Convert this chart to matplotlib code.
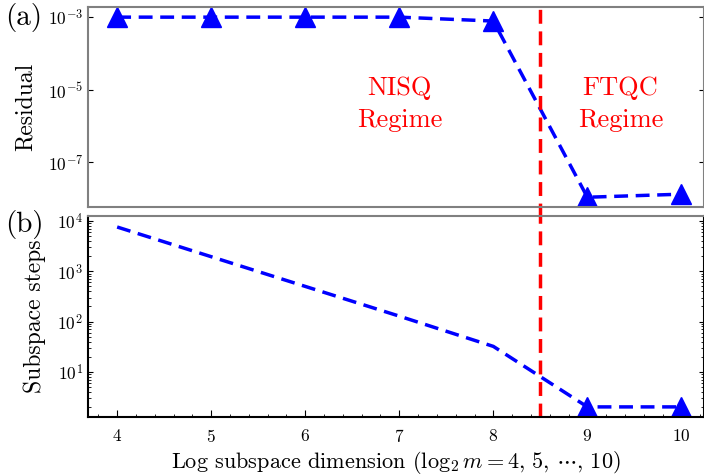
import numpy as np
import matplotlib
matplotlib.use("Agg")
import matplotlib.pyplot as plt

plt.rcParams['font.family'] = 'serif'
plt.rcParams['font.serif'] = ['cmr10', 'DejaVu Serif']
plt.rcParams['mathtext.fontset'] = 'cm'
plt.rcParams['axes.formatter.use_mathtext'] = True
plt.rcParams['axes.unicode_minus'] = False

# datos
dims = [4, 5, 6, 7, 8, 9, 10]
residual = [1.0e-3, 1.0e-3, 1.0e-3, 1.0e-3, 7.8e-4, 1.07e-8, 1.3e-8]
pasos = [7600, 1950, 500, 128, 32, 2, 2]
dims_ftqc = [9, 10]
pasos_ftqc = [2, 2]
corte = 8.5

gris = '#808080'

fig = plt.figure(figsize=(7.04, 4.75), dpi=100)
ax1 = fig.add_axes([88/704, 1-207/475, 616/704, 200/475])
ax2 = fig.add_axes([88/704, 1-417/475, 616/704, 201/475])

# (a) residual
ax1.plot(dims, residual, '--', color='blue', lw=2.5, dashes=(4, 2.2),
         marker='^', markersize=15)
ax1.axvline(corte, ymin=-0.05, ymax=1, color='red', lw=2.5, ls='--',
            dashes=(4, 2.2), clip_on=False)
ax1.set_yscale('log')
ax1.set_ylim(10**-8.24, 10**-2.72)
ax1.set_yticks([1e-3, 1e-5, 1e-7])
ax1.set_ylabel('Residual', fontsize=17, labelpad=8)
ax1.text(7.0, 10**-5.4, 'NISQ\nRegime', color='red', fontsize=19,
         ha='center', va='center', linespacing=1.45)
ax1.text(9.35, 10**-5.4, 'FTQC\nRegime', color='red', fontsize=19,
         ha='center', va='center', linespacing=1.45)
ax1.tick_params(axis='x', which='both', bottom=False, labelbottom=False)
ax1.tick_params(axis='y', which='both', direction='in', right=True, labelsize=12.5)
ax1.tick_params(axis='y', which='minor', left=False, right=False)
for s in ax1.spines.values():
    s.set_color(gris)
    s.set_linewidth(1.5)

# (b) pasos de subespacio
ax2.plot(dims, pasos, '--', color='blue', lw=2.5, dashes=(4, 2.2))
ax2.plot(dims_ftqc, pasos_ftqc, '^', color='blue', markersize=15)
ax2.axvline(corte, color='red', lw=2.5, ls='--', dashes=(4, 2.2))
ax2.set_yscale('log')
ax2.set_ylim(10**0.1, 10**4.1)
ax2.set_yticks([1e1, 1e2, 1e3, 1e4])
ax2.set_ylabel('Subspace steps', fontsize=17, labelpad=8)
ax2.set_xlabel(r'Log subspace dimension ($\log_2 m=4,\,5,\,\cdots,\,10$)',
               fontsize=16, labelpad=3)
ax2.set_xticks(dims)
ax2.set_xticks(np.arange(3.8, 10.3, 0.2), minor=True)
ax2.tick_params(which='both', direction='in', right=True, labelsize=12.5)
ax2.tick_params(axis='x', which='major', length=5, pad=8)
ax2.spines['top'].set_color(gris)
for s in ax2.spines.values():
    s.set_linewidth(1.5)

for ax in (ax1, ax2):
    ax.set_xlim(3.69, 10.24)

fig.text(5/704, 1-17/475, '(a)', fontsize=21, va='center')
fig.text(5/704, 1-225/475, '(b)', fontsize=21, va='center')

fig.savefig('out.png', dpi=100)
plt.close(fig)
